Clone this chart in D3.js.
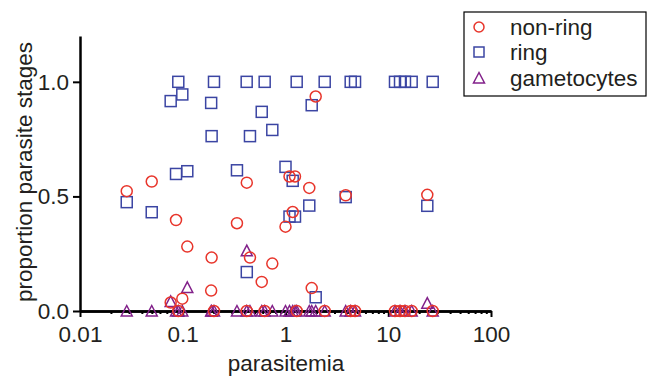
<!DOCTYPE html>
<html>
<head>
<meta charset="utf-8">
<script src="https://cdn.jsdelivr.net/npm/d3@7"></script>
<style>
  body { margin: 0; background: #fff; }
  svg text { font-family: "Liberation Sans", Arial, sans-serif; fill: #231f20; }
</style>
</head>
<body>
<svg id="chart" width="648" height="377"></svg>
<script>
// Data: one entry per sample
const parasitemia = [0.0285, 0.0499, 0.0763, 0.086, 0.0905, 0.099, 0.1107, 0.189, 0.191, 0.2014,
  0.337, 0.419, 0.42, 0.451, 0.587, 0.627, 0.744, 1.0, 1.094, 1.175,
  1.237, 1.285, 1.704, 1.799, 1.967, 2.407, 3.853, 4.31, 4.75, 11.63,
  13.02, 14.55, 16.9, 23.99, 27.08];
const nonRing = [0.523, 0.565, 0.037, 0.397, 0, 0.054, 0.281, 0.089, 0.233, 0,
  0.383, 0, 0.56, 0.233, 0.127, 0, 0.207, 0.368, 0.587, 0.432,
  0.587, 0, 0.537, 0.1, 0.936, 0, 0.505, 0, 0, 0,
  0, 0, 0, 0.507, 0];
const ring = [0.475, 0.431, 0.916, 0.598, 1, 0.945, 0.61, 0.908, 0.763, 1,
  0.614, 1, 0.17, 0.763, 0.869, 1, 0.79, 0.629, 0.412, 0.568,
  0.412, 1, 0.46, 0.898, 0.06, 1, 0.497, 1, 1, 1,
  1, 1, 1, 0.459, 1];
const gametocytes = [0, 0, 0.042, 0, 0, 0, 0.103, 0, 0, 0,
  0, 0, 0.263, 0, 0, 0, 0, 0, 0, 0,
  0, 0, 0, 0, 0, 0, 0, 0, 0, 0,
  0, 0, 0, 0.034, 0];

const xTicks = [0.01, 0.1, 1, 10, 100];
const xTickLabels = ['0.01', '0.1', '1', '10', '100'];
const yTicks = [0, 0.5, 1.0];
const legendLabels = ['non-ring', 'ring', 'gametocytes'];

// Settings
const colors = { nonRing: '#e8352b', ring: '#3b45a3', gam: '#82218a' };
const font_size = 22.5;

const svg = d3.select('#chart');
const x = d3.scaleLog().domain([0.01, 100]).range([80, 491]);
const y = d3.scaleLinear().domain([0, 1.2]).range([311, 36]);

// Minor ticks 2..9 in each decade
const minor = [];
xTicks.slice(0, -1).forEach((d) => {
  for (let k = 2; k <= 9; k++) minor.push(d * k);
});

const styleAxis = (g) => {
  g.select('.domain').attr('stroke', '#000').attr('stroke-width', 2.5);
  g.selectAll('.tick line').attr('stroke', '#000').attr('stroke-width', 2);
  g.selectAll('text').attr('font-size', font_size).attr('fill', '#231f20');
};

svg.append('g')
  .attr('transform', 'translate(0,311)')
  .call(d3.axisBottom(x).tickValues(minor).tickSize(3).tickSizeOuter(0).tickFormat(''))
  .call(styleAxis);

svg.append('g')
  .attr('transform', 'translate(0,311)')
  .call(d3.axisBottom(x).tickValues(xTicks).tickSize(6).tickSizeOuter(0).tickPadding(9)
    .tickFormat((d, i) => xTickLabels[i]))
  .call(styleAxis);

svg.append('g')
  .attr('transform', 'translate(80,0)')
  .call(d3.axisLeft(y).tickValues(yTicks).tickSize(7).tickSizeOuter(0).tickPadding(4)
    .tickFormat(d3.format('.1f')))
  .call(styleAxis);

// Axis titles
svg.append('text')
  .attr('x', 286).attr('y', 371)
  .attr('text-anchor', 'middle')
  .attr('font-size', font_size)
  .text('parasitemia');

svg.append('text')
  .attr('transform', 'translate(32,172) rotate(-90)')
  .attr('text-anchor', 'middle')
  .attr('font-size', font_size)
  .text('proportion parasite stages');

// Marker drawers
const triPath = (cx, cy) => `M${cx - 5.5},${cy + 5} L${cx + 5.5},${cy + 5} L${cx},${cy - 5.5} Z`;

const samples = parasitemia.map((p, i) => ({ p, nr: nonRing[i], r: ring[i], g: gametocytes[i] }));

const points = svg.append('g').attr('fill', 'none').attr('stroke-width', 1.5);

points.selectAll('path.gam')
  .data(samples)
  .enter()
  .append('path')
  .attr('class', 'gam')
  .attr('d', (d) => triPath(x(d.p), y(d.g)))
  .attr('stroke', colors.gam);

points.selectAll('rect.ring')
  .data(samples)
  .enter()
  .append('rect')
  .attr('class', 'ring')
  .attr('x', (d) => x(d.p) - 5.5)
  .attr('y', (d) => y(d.r) - 5.5)
  .attr('width', 11)
  .attr('height', 11)
  .attr('stroke', colors.ring);

points.selectAll('circle.nr')
  .data(samples)
  .enter()
  .append('circle')
  .attr('class', 'nr')
  .attr('cx', (d) => x(d.p))
  .attr('cy', (d) => y(d.nr))
  .attr('r', 5.5)
  .attr('stroke', colors.nonRing);

// Legend
const legend = svg.append('g');
legend.append('rect')
  .attr('x', 464).attr('y', 12)
  .attr('width', 182).attr('height', 84)
  .attr('fill', '#fff')
  .attr('stroke', '#000')
  .attr('stroke-width', 1.2);

const rows = [27, 52, 78];
legend.append('circle')
  .attr('cx', 479).attr('cy', rows[0]).attr('r', 5)
  .attr('fill', 'none').attr('stroke', colors.nonRing).attr('stroke-width', 1.5);
legend.append('rect')
  .attr('x', 474).attr('y', rows[1] - 5).attr('width', 10).attr('height', 10)
  .attr('fill', 'none').attr('stroke', colors.ring).attr('stroke-width', 1.5);
legend.append('path')
  .attr('d', triPath(479, rows[2]))
  .attr('fill', 'none').attr('stroke', colors.gam).attr('stroke-width', 1.5);

legend.selectAll('text')
  .data(legendLabels)
  .enter()
  .append('text')
  .attr('x', 510)
  .attr('y', (d, i) => rows[i])
  .attr('dy', '0.35em')
  .attr('font-size', font_size)
  .text((d) => d);
</script>
</body>
</html>
